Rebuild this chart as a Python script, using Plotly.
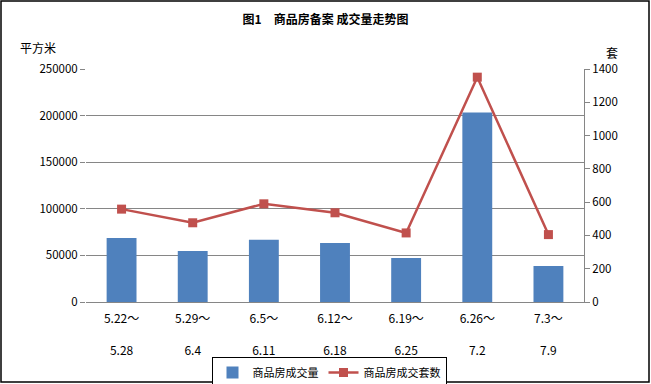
import plotly.graph_objects as go

categories = ["5.22～ 5.28", "5.29～ 6.4", "6.5～ 6.11", "6.12～ 6.18", "6.19～ 6.25", "6.26～ 7.2", "7.3～ 7.9"]
tick_line1 = ["5.22～", "5.29～", "6.5～", "6.12～", "6.19～", "6.26～", "7.3～"]
tick_line2 = ["5.28", "6.4", "6.11", "6.18", "6.25", "7.2", "7.9"]
area_values = [68800, 54800, 66700, 63400, 47300, 203200, 38700]
unit_values = [558, 476, 590, 536, 415, 1351, 405]
left_ticks = [0, 50000, 100000, 150000, 200000, 250000]
right_ticks = [0, 200, 400, 600, 800, 1000, 1200, 1400]

FONT = "Noto Sans CJK SC"
W, H = 651, 384
L, R, T, B = 86, 67, 69, 82
pw, ph = W - L - R, H - T - B

fig = go.Figure()
fig.add_trace(go.Bar(
    x=categories, y=area_values, name="商品房成交量",
    marker=dict(color="#4F81BD", line=dict(width=0)), yaxis="y",
))
fig.add_trace(go.Scatter(
    x=categories, y=unit_values, name="商品房成交套数", yaxis="y2",
    mode="lines+markers",
    line=dict(color="#C0504D", width=2.5),
    marker=dict(symbol="square", size=9, color="#C0504D"),
))

ticktext = [f"{a}<br> <br>{b}" for a, b in zip(tick_line1, tick_line2)]

fig.update_layout(
    width=W, height=H,
    margin=dict(l=L, r=R, t=T, b=B, autoexpand=False),
    paper_bgcolor="white", plot_bgcolor="white",
    font=dict(family=FONT, size=11, color="black"),
    bargap=0.58,
    showlegend=True,
    title=dict(text="<b>图1　商品房备案 成交量走势图</b>", x=0.5, xanchor="center",
               y=1 - 20 / H, yanchor="middle", font=dict(family=FONT, size=12, color="black")),
    xaxis=dict(
        tickvals=categories, ticktext=ticktext, showgrid=False,
        showline=True, linecolor="#868686", linewidth=1,
        ticks="", ticklabelstandoff=6, tickfont=dict(size=12),
        range=[-0.5, 6.5], fixedrange=True,
    ),
    yaxis=dict(
        range=[0, 250000], tickvals=left_ticks, ticktext=[str(v) for v in left_ticks],
        showgrid=True, gridcolor="#868686",
        gridwidth=1, zeroline=False, showline=False, ticks="outside", ticklen=5,
        tickcolor="#868686", tickfont=dict(size=11.5), fixedrange=True,
    ),
    yaxis2=dict(
        range=[0, 1400], tickvals=right_ticks, ticktext=[str(v) for v in right_ticks],
        overlaying="y", side="right",
        showgrid=False, zeroline=False, showline=True, linecolor="#868686",
        ticks="outside", ticklen=5, tickcolor="#868686", tickfont=dict(size=11.5),
        fixedrange=True,
    ),
    legend=dict(
        orientation="h", x=(329 - L) / pw, xanchor="center",
        y=(302 - 357) / ph, yanchor="top",
        bordercolor="black", borderwidth=1, bgcolor="white",
        font=dict(size=11), itemwidth=30, tracegroupgap=0,
    ),
    annotations=[
        dict(text="平方米", x=(38 - L) / pw, y=(302 - 47) / ph, xref="paper", yref="paper",
             showarrow=False, font=dict(size=12), xanchor="center", yanchor="middle"),
        dict(text="套", x=(612 - L) / pw, y=(302 - 52) / ph, xref="paper", yref="paper",
             showarrow=False, font=dict(size=12), xanchor="center", yanchor="middle"),
    ],
    shapes=[
        dict(type="rect", xref="paper", yref="paper",
             x0=(1 - L) / pw, x1=(649 - L) / pw, y0=(302 - 382) / ph, y1=(302 - 1) / ph,
             line=dict(color="black", width=1.5), fillcolor="rgba(0,0,0,0)", layer="above"),
    ],
)

fig.write_html("out.html", config={"displayModeBar": False},
               post_script="document.body.style.margin='0';")
